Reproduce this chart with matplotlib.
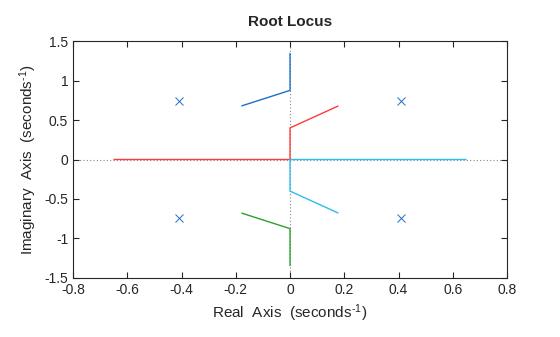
import matplotlib
matplotlib.use('Agg')
import matplotlib.pyplot as plt

plt.rcParams['font.family'] = ['Liberation Sans', 'DejaVu Sans']
plt.rcParams['axes.unicode_minus'] = False
plt.rcParams['mathtext.fontset'] = 'custom'
plt.rcParams['mathtext.rm'] = 'Liberation Sans'
plt.rcParams['mathtext.it'] = 'Liberation Sans'
plt.rcParams['mathtext.default'] = 'regular'

# open-loop poles
pole_re = [-0.41, -0.41, 0.41, 0.41]
pole_im = [0.735, -0.735, 0.735, -0.735]

# locus branches (real, imag) traced along increasing gain
branch_blue_re = [-0.177, 0.0, 0.0]
branch_blue_im = [0.68, 0.875, 1.34]
branch_red_re = [-0.648, 0.0, 0.0, 0.176]
branch_red_im = [0.0, 0.0, 0.40, 0.675]
branch_cyan_re = [0.648, 0.0, 0.0, 0.176]
branch_cyan_im = [0.0, 0.0, -0.40, -0.675]
branch_green_re = [-0.177, 0.0, 0.0]
branch_green_im = [-0.68, -0.875, -1.34]

x_ticks = [-0.8, -0.6, -0.4, -0.2, 0, 0.2, 0.4, 0.6, 0.8]
x_labels = ['-0.8', '-0.6', '-0.4', '-0.2', '0', '0.2', '0.4', '0.6', '0.8']
y_ticks = [-1.5, -1, -0.5, 0, 0.5, 1, 1.5]
y_labels = ['-1.5', '-1', '-0.5', '0', '0.5', '1', '1.5']

fig = plt.figure(figsize=(5.6, 3.37), dpi=100)
ax = fig.add_axes([0.1304, 0.1751, 0.7750, 0.7032])

ax.axhline(0, color='#888888', ls=(0, (1, 2)), lw=0.8, zorder=1)
ax.axvline(0, color='#888888', ls=(0, (1, 2)), lw=0.8, zorder=1)

ax.plot(branch_red_re, branch_red_im, color='#ff3a3a', lw=1.0, zorder=2)
ax.plot(branch_cyan_re, branch_cyan_im, color='#2fbcec', lw=1.0, zorder=2)
ax.plot(branch_blue_re, branch_blue_im, color='#1c6fc8', lw=1.0, zorder=2)
ax.plot(branch_green_re, branch_green_im, color='#2ca02c', lw=1.0, zorder=2)

ax.plot(pole_re, pole_im, ls='none', marker='x', ms=6, mew=0.7,
        color='#1c6fc8', zorder=3)

ax.set_xlim(-0.8, 0.8)
ax.set_ylim(-1.5, 1.5)
ax.set_xticks(x_ticks, x_labels)
ax.set_yticks(y_ticks, y_labels)
ax.tick_params(direction='in', top=True, right=True, length=4,
               labelsize=10, colors='#262626', width=0.8)
for s in ax.spines.values():
    s.set_color('#262626')
    s.set_linewidth(0.8)

ax.set_title('Root Locus', fontsize=11, fontweight='bold', color='#262626', pad=11)
ax.set_xlabel(r'Real  Axis  (seconds$^{\text{-1}}$)', fontsize=11, color='#262626')
ax.set_ylabel(r'Imaginary  Axis  (seconds$^{\text{-1}}$)', fontsize=11, color='#262626',
              labelpad=4)

fig.savefig('out.png', dpi=100)
